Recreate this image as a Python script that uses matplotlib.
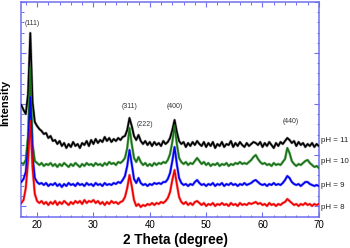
import numpy as np
import matplotlib
matplotlib.use('Agg')
import matplotlib.pyplot as plt
from matplotlib.ticker import MultipleLocator
import matplotlib.transforms as mtransforms

plt.rcParams['font.family'] = ['Liberation Sans', 'DejaVu Sans']

# 2 theta sampling grid (degree)
two_theta = np.round(np.arange(17.2, 70.01, 0.4), 1)

# intensity (a.u.), pH = 11 / 10 / 9 / 8
ph11 = [101, 96, 92, 112, 173, 104, 84, 80, 77, 75,
        72, 73, 68, 70, 65, 66, 62, 65, 60, 63,
        58, 62, 59, 64, 60, 62, 58, 63, 61, 65,
        60, 66, 62, 67, 63, 66, 64, 69, 65, 68,
        64, 67, 65, 68, 66, 69, 70, 76, 88, 80,
        70, 66, 71, 65, 62, 65, 61, 64, 60, 64,
        61, 63, 60, 65, 62, 64, 68, 76, 86, 74,
        65, 62, 64, 59, 63, 60, 64, 61, 65, 62,
        60, 64, 59, 63, 60, 64, 58, 62, 60, 64,
        59, 62, 61, 65, 59, 63, 60, 64, 61, 59,
        63, 60, 62, 64, 63, 61, 64, 59, 63, 60,
        64, 61, 58, 63, 60, 64, 62, 65, 68, 66,
        63, 65, 60, 64, 61, 63, 59, 62, 60, 63,
        59, 62, 60]
ph10 = [43, 42, 46, 70, 139, 62, 45, 43, 41, 43,
        40, 42, 41, 43, 40, 42, 39, 42, 40, 43,
        41, 39, 42, 40, 43, 41, 39, 42, 40, 43,
        41, 42, 40, 43, 41, 42, 40, 43, 41, 44,
        42, 43, 41, 44, 43, 45, 48, 58, 78, 62,
        48, 44, 49, 44, 41, 43, 40, 42, 40, 43,
        41, 43, 42, 44, 43, 46, 52, 64, 81, 62,
        48, 44, 42, 44, 41, 43, 42, 45, 48, 45,
        42, 44, 41, 43, 40, 42, 41, 43, 40, 42,
        41, 43, 40, 42, 41, 43, 42, 44, 42, 43,
        42, 44, 46, 49, 51, 47, 44, 42, 43, 41,
        42, 40, 43, 41, 42, 41, 44, 47, 58, 53,
        45, 42, 40, 42, 41, 43, 45, 46, 43, 41,
        39, 40, 38]
ph9 = [24, 27, 34, 60, 109, 50, 28, 24, 22, 23,
       21, 23, 20, 22, 21, 23, 20, 22, 19, 22,
       20, 23, 21, 22, 20, 23, 21, 22, 20, 23,
       21, 22, 20, 23, 21, 22, 20, 23, 21, 22,
       21, 23, 22, 24, 23, 26, 30, 40, 56, 42,
       27, 23, 28, 23, 21, 22, 20, 22, 21, 23,
       22, 23, 22, 24, 24, 27, 33, 45, 59, 42,
       28, 23, 21, 22, 20, 22, 21, 24, 26, 23,
       21, 22, 20, 22, 21, 23, 20, 22, 21, 23,
       20, 22, 21, 23, 21, 22, 20, 22, 21, 23,
       21, 22, 23, 25, 26, 24, 22, 21, 22, 20,
       22, 21, 23, 21, 22, 21, 23, 26, 30, 28,
       24, 22, 21, 22, 20, 22, 24, 24, 22, 21,
       20, 21, 20]
ph8 = [3, 6, 18, 45, 85, 38, 12, 5, 3, 5,
       2, 4, 1, 4, 2, 5, 1, 4, 2, 5,
       3, 1, 4, 2, 5, 3, 5, 2, 6, 3,
       5, 4, 6, 3, 5, 2, 4, 1, 4, 2,
       5, 3, 4, 2, 4, 5, 9, 18, 31, 20,
       6, 0, 2, -1, 1, 0, 2, 1, 3, 1,
       3, 2, 4, 3, 5, 8, 14, 26, 36, 22,
       9, 4, 2, 4, 1, 3, 1, 4, 5, 3,
       1, 3, 0, 2, 1, 3, 0, 2, 1, 3,
       1, 2, 0, 3, 1, 2, 0, 3, 1, 2,
       1, 3, 2, 3, 4, 2, 3, 1, 2, 0,
       3, 1, 2, 0, 2, 1, 3, 4, 7, 5,
       3, 1, 2, 0, 2, 1, 3, 1, 2, 0,
       2, 1, 2]

series = [ph11, ph10, ph9, ph8]
ph_labels = ['pH = 11', 'pH = 10', 'pH = 9', 'pH = 8']
ph_label_y = [65, 44, 20, -2]
colors = ['black', '#1b6f1b', '#0000ee', '#ee0000']
halo = ['#8a8a8a', '#7cc07c', '#7f7fff', '#ff8080']

# peak (hkl) labels
hkl = ['(111)', '(311)', '(222)', '(400)', '(440)']
hkl_x = [19.2, 36.4, 39.2, 44.4, 65.0]
hkl_y = [182, 99, 81, 99, 84]

axis_col = '#6f6ff0'

fig = plt.figure(figsize=(3.5, 2.48), dpi=100)
ax = fig.add_axes([0.06, 0.125, 0.851, 0.867])

for y, c, h in zip(series, colors, halo):
    ax.plot(two_theta, y, color=h, lw=2.0, alpha=0.8, zorder=2)
    ax.plot(two_theta, y, color=c, lw=1.2, zorder=3)

trans = mtransforms.blended_transform_factory(ax.transAxes, ax.transData)
for lab, yy in zip(ph_labels, ph_label_y):
    ax.text(1.008, yy, lab, transform=trans, fontsize=5.7, color='#222222',
            va='center', ha='left', clip_on=False)

for lab, xx, yy in zip(hkl, hkl_x, hkl_y):
    ax.text(xx, yy, lab, fontsize=5, color='#333333', ha='center', va='center')

ax.set_xlim(17.15, 70)
ax.set_ylim(-11, 204)
ax.xaxis.set_major_locator(MultipleLocator(10))
ax.xaxis.set_minor_locator(MultipleLocator(2))
ax.yaxis.set_major_locator(MultipleLocator(51))
ax.yaxis.set_minor_locator(MultipleLocator(10.2))
ax.set_yticklabels([])
ax.tick_params(which='both', direction='in', top=True, right=True, color=axis_col,
               labelsize=7, pad=2)
ax.tick_params(which='major', length=3.5, width=0.8)
ax.tick_params(which='minor', length=1.8, width=0.7)
ax.tick_params(axis='y', labelleft=False)
for s in ax.spines.values():
    s.set_color(axis_col)
    s.set_linewidth(1.1)

ax.set_xlabel('2 Theta (degree)', fontsize=9.8, fontweight='bold')
ax.xaxis.set_label_coords(0.52, -0.075)
ax.set_ylabel('Intensity', fontsize=8, fontweight='bold', labelpad=4)
ax.yaxis.set_label_coords(-0.035, 0.53)

fig.savefig('out.png', dpi=100)
